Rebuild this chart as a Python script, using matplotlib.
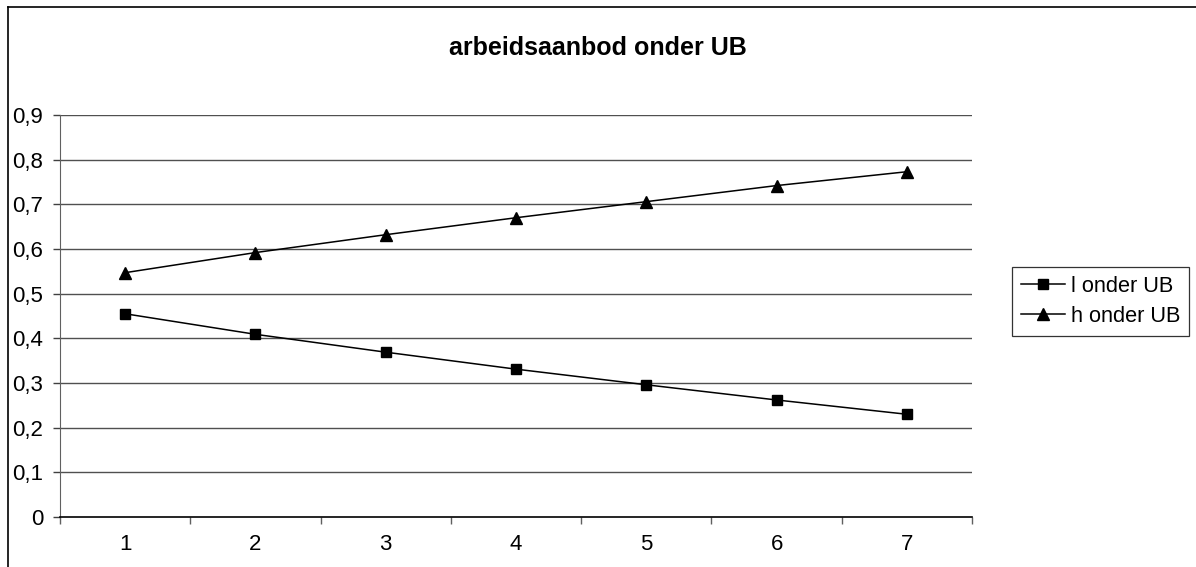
import matplotlib
matplotlib.use("Agg")
import matplotlib.pyplot as plt
from matplotlib.lines import Line2D
import numpy as np

plt.rcParams['font.family'] = ['Liberation Sans', 'DejaVu Sans']

# data
categories = [1, 2, 3, 4, 5, 6, 7]
l_onder_ub = [0.455, 0.409, 0.369, 0.331, 0.296, 0.262, 0.230]
h_onder_ub = [0.547, 0.592, 0.632, 0.670, 0.706, 0.742, 0.773]
y_ticks = [0, 0.1, 0.2, 0.3, 0.4, 0.5, 0.6, 0.7, 0.8, 0.9]

W, H = 1196, 567
fig = plt.figure(figsize=(W / 100, H / 100), dpi=100)
ax = fig.add_axes([60 / W, 1 - 517 / H, (972 - 60) / W, (517 - 115) / H])

x = np.arange(len(categories)) + 1
ax.plot(x, l_onder_ub, color='black', lw=1.1, marker='s', ms=7,
        label='l onder UB')
ax.plot(x, h_onder_ub, color='black', lw=1.1, marker='^', ms=8,
        label='h onder UB')

ax.set_xlim(0.5, len(categories) + 0.5)
ax.set_ylim(0, 0.9)
ax.set_yticks(y_ticks)
ax.set_yticklabels([f"{v:.1f}".replace('.', ',') if v else '0' for v in y_ticks])
ax.set_xticks(x)
ax.set_xticklabels([str(c) for c in categories])
ax.set_xticks(np.arange(len(categories) + 1) + 0.5, minor=True)
ax.tick_params(axis='x', which='major', length=0, pad=12, labelsize=16)
ax.tick_params(axis='x', which='minor', length=5, width=1, color='#606060')
ax.tick_params(axis='y', length=5, width=1, color='#404040', pad=7, labelsize=16)

for v in y_ticks[1:]:
    ax.axhline(v, color='#505050', lw=1, zorder=0)

for s in ['top', 'right']:
    ax.spines[s].set_visible(False)
ax.spines['left'].set_color('#606060')
ax.spines['bottom'].set_color('black')
ax.spines['bottom'].set_linewidth(1.2)

fig.text(0.5, 1 - 55 / H, 'arbeidsaanbod onder UB', fontsize=18,
         fontweight='bold', ha='center', va='baseline')

leg = ax.legend(loc='center left', bbox_to_anchor=(1012 / W, 1 - 301.5 / H),
                bbox_transform=fig.transFigure, frameon=True, fancybox=False,
                edgecolor='black', fontsize=15.7, handlelength=2.05,
                handletextpad=0.27, borderpad=0.4, labelspacing=0.42,
                borderaxespad=0)
leg.get_frame().set_linewidth(0.9)

# outer chart frame (top and left edges visible)
fig.add_artist(Line2D([8 / W, 8 / W], [0, 1 - 7 / H], color='black', lw=1.2,
                      transform=fig.transFigure))
fig.add_artist(Line2D([8 / W, 1], [1 - 7 / H, 1 - 7 / H], color='black', lw=1.2,
                      transform=fig.transFigure))

fig.savefig('out.png', dpi=100)
